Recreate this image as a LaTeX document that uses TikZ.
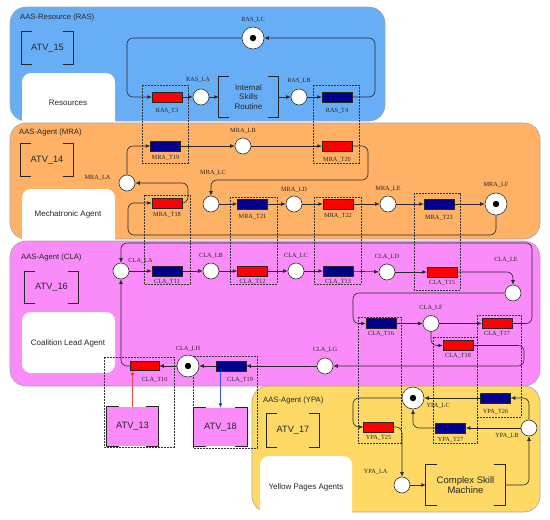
\documentclass[tikz,border=0pt]{standalone}
\usepackage{fontspec}
\setmainfont{Liberation Serif}
\setsansfont{Liberation Sans}
\usetikzlibrary{arrows.meta}
\definecolor{rasblue}{RGB}{104,174,247}
\definecolor{mraorange}{RGB}{255,178,102}
\definecolor{clapink}{RGB}{250,140,250}
\definecolor{ypayellow}{RGB}{255,217,102}
\definecolor{trnavy}{RGB}{0,0,140}
\definecolor{lineclr}{RGB}{40,40,40}
\newcommand\bracketpair[2][10]{%
  \draw[brk] ([xshift=#1pt]#2.north west) -- (#2.north west) -- (#2.south west) -- ([xshift=#1pt]#2.south west);
  \draw[brk] ([xshift=-#1pt]#2.north east) -- (#2.north east) -- (#2.south east) -- ([xshift=-#1pt]#2.south east);}
\begin{document}
\begin{tikzpicture}[x=1pt,y=-1pt,
 panel/.style={draw=black!35, line width=0.6pt, rounded corners=16pt},
 ttl/.style={font=\sffamily\fontsize{7.7}{9}\selectfont, text=black!85, anchor=west, inner sep=0pt},
 atv/.style={font=\sffamily\fontsize{9.2}{11}\selectfont, text=black!85, inner sep=0pt},
 boxtxt/.style={font=\sffamily\fontsize{8}{10}\selectfont, text=black!85, inner sep=0pt},
 brk/.style={draw=black!85, line width=1.2pt},
 place/.style={circle, draw=black!80, fill=white, minimum size=16pt, inner sep=0pt, line width=0.6pt},
 tplace/.style={place, minimum size=22pt, path picture={\fill[black] (path picture bounding box.center) circle[radius=3.2];}},
 trR/.style={rectangle, draw=black!85, fill=red, minimum width=30pt, minimum height=10pt, inner sep=0pt, line width=0.5pt},
 trB/.style={trR, fill=trnavy},
 lbl/.style={font=\fontsize{6.3}{7}\selectfont, text=black!85, inner sep=0pt},
 labA/.style={label={[lbl,label distance=4pt]above:#1}},
 labB/.style={label={[lbl,label distance=4pt]below:#1}},
 labBs/.style={label={[lbl,label distance=2.5pt]below:#1}},
 conn/.style={draw=lineclr, line width=0.6pt, -{Latex[length=4.5pt,width=3.8pt]}, rounded corners=6pt},
 dbox/.style={draw=black!80, line width=0.5pt, dash pattern=on 1.6pt off 1.4pt},
]
\useasboundingbox (0,0) rectangle (550,520);

% ---------- panels ----------
\draw[panel, fill=rasblue] (10,7) rectangle (385,121);
\fill[white, rounded corners=9pt] (22,73) rectangle (115,140);
\node[ttl] (tras) at (20,18) {AAS-Resource (RAS)};
\node[atv, minimum width=51pt, minimum height=32pt] (atv15) at (47.5,48) {ATV\_15};
\node[boxtxt] (res) at (68,103) {Resources};

\draw[panel, fill=mraorange] (10,123) rectangle (540,239);
\fill[white, rounded corners=9pt] (22,189) rectangle (115,255);
\node[ttl] (tmra) at (19,133) {AAS-Agent (MRA)};
\node[atv, minimum width=52pt, minimum height=32pt] (atv14) at (47,160) {ATV\_14};
\node[boxtxt] (mech) at (68,214) {Mechatronic Agent};

\draw[panel, fill=clapink] (10,241) rectangle (540,386);
\fill[white, rounded corners=9pt] (22,312) rectangle (115,373);
\node[ttl] (tcla) at (21,258) {AAS-Agent (CLA)};
\node[atv, minimum width=53pt, minimum height=31pt] (atv16) at (51.5,287.5) {ATV\_16};
\node[boxtxt] (coal) at (68,343) {Coalition Lead Agent};

\draw[panel, fill=ypayellow] (252,386) rectangle (540,512);
\fill[white, rounded corners=9pt] (260,456) rectangle (352,530);
\node[ttl] (typa) at (263,401) {AAS-Agent (YPA)};
\node[atv, minimum width=52pt, minimum height=33pt] (atv17) at (293,430.5) {ATV\_17};
\node[boxtxt] (ypag) at (306,487) {Yellow Pages Agents};

\node[atv, fill=clapink, minimum width=51pt, minimum height=39pt] (atv13) at (132.5,426.5) {ATV\_13};
\node[atv, fill=clapink, minimum width=53pt, minimum height=38pt] (atv18) at (220.5,427) {ATV\_18};

% ---------- dashed groups ----------
\draw[dbox] (142,85) rectangle (188,163);
\draw[dbox] (313,85) rectangle (359,163);
\draw[dbox] (144,195) rectangle (190,284);
\draw[dbox] (230,197) rectangle (277,284);
\draw[dbox] (314,197) rectangle (361,284);
\draw[dbox] (414,193) rectangle (460,290);
\draw[dbox] (358,317) rectangle (401,443);
\draw[dbox] (433,337) rectangle (477,443);
\draw[dbox] (477,315) rectangle (521,417);
\draw[dbox] (104,357) rectangle (174,447);
\draw[dbox] (193,356) rectangle (257,448);

% ---------- RAS net ----------
\node[tplace, label={[lbl,label distance=4.5pt]above:RAS\_LC}] (RLC) at (253,38) {};
\node[trR, label={[lbl,label distance=5.5pt]below:RAS\_T3}] (RT3) at (167,97) {};
\node[place, label={[lbl,label distance=6pt,xshift=-3pt]above:RAS\_LA}] (RLA) at (201,97) {};
\node[boxtxt, align=center, font=\sffamily\fontsize{8}{9.7}\selectfont, minimum width=59pt, minimum height=40pt] (isr) at (248.5,97) {Internal\\Skills\\Routine};
\node[place, label={[lbl,label distance=5.5pt]above:RAS\_LB}] (RLB) at (299,97) {};
\node[trB, label={[lbl,label distance=6pt]below:RAS\_T4}] (RT4) at (337,97) {};
\coordinate (rc1) at (375,38);
\coordinate (rc2) at (127,97);

% ---------- MRA net ----------
\node[trB, labB=MRA\_T19] (MT19) at (165.5,146) {};
\node[place, labA=MRA\_LB] (MLB) at (243,146) {};
\node[trR, label={[lbl,label distance=5.5pt]below:MRA\_T20}] (MT20) at (337,146) {};
\node[place, label={[lbl,label distance=8pt,yshift=5pt]left:MRA\_LA}] (MLA) at (127,183) {};
\node[trR, labB=MRA\_T18] (MT18) at (167,203) {};
\node[place, label={[lbl,label distance=20pt,xshift=2pt]above:MRA\_LC}] (MLC) at (211,204) {};
\node[trB, label={[lbl,label distance=5pt]below:MRA\_T21}] (MT21) at (252.5,204) {};
\node[place, label={[lbl,label distance=3pt]above:MRA\_LD}] (MLD) at (294,204) {};
\node[trR, labB=MRA\_T22] (MT22) at (338,204) {};
\node[place, labA=MRA\_LE] (MLE) at (388,204) {};
\node[trB, label={[lbl,label distance=6pt]below:MRA\_T23}] (MT23) at (439,204) {};
\node[tplace, label={[lbl,label distance=5pt]above:MRA\_LF}] (MLF) at (496,204) {};
\coordinate (mc1) at (368,180);
\coordinate (mc2) at (128,235);
\coordinate (mc3) at (188,183);

% ---------- CLA net ----------
\node[place, label={[lbl,label distance=2pt]above right:CLA\_LA}] (CLA) at (121,271) {};
\node[trB, labBs=CLA\_T11] (CT11) at (167,271) {};
\node[place, labA=CLA\_LB] (CLB) at (211,271) {};
\node[trR, labBs=CLA\_T12] (CT12) at (252.5,271) {};
\node[place, labA=CLA\_LC] (CLC) at (296,271) {};
\node[trB, labBs=CLA\_T13] (CT13) at (338,271) {};
\node[place, labA=CLA\_LD] (CLD) at (387,272) {};
\node[trR, labBs=CLA\_T15] (CT15) at (442,272) {};
\node[place, label={[lbl,label distance=22pt,xshift=-7pt]above:CLA\_LE}] (CLE) at (513,293) {};
\node[trB, labBs=CLA\_T16] (CT16) at (381,323.5) {};
\node[place, label={[lbl,label distance=5pt]above:CLA\_LF}] (CLF) at (431,323.5) {};
\node[trR, labBs=CLA\_T17] (CT17) at (497,323.5) {};
\node[trR, labBs=CLA\_T18] (CT18) at (458,345.5) {};
\node[place, label={[lbl,label distance=5pt]above:CLA\_LG}] (CLG) at (325,366) {};
\node[trB, label={[lbl,label distance=5.5pt,xshift=9pt]below:CLA\_T19}] (CT19) at (231,366) {};
\node[tplace, label={[lbl,label distance=3.5pt]above:CLA\_LH}] (CLH) at (188,366) {};
\node[trR, minimum width=29pt, minimum height=9pt, label={[lbl,label distance=6pt,xshift=10pt]below:CLA\_T10}] (CT10) at (144.5,366) {};
\coordinate (cc1) at (353,293);
\coordinate (cc2) at (532,243);
\coordinate (cc3) at (524,366);

% ---------- YPA net ----------
\node[tplace, label={[lbl,label distance=2pt,yshift=-8pt]right:YPA\_LC}] (YLC) at (413,398) {};
\node[trB, label={[lbl,label distance=5.5pt]below:YPA\_T26}] (YT26) at (495.5,398) {};
\node[place, label={[lbl,label distance=2pt,yshift=-8pt]left:YPA\_LB}] (YLB) at (529,428) {};
\node[trB, labB=YPA\_T27] (YT27) at (450.5,428) {};
\node[trR, labBs=YPA\_T25] (YT25) at (378.5,427) {};
\node[place, label={[lbl,label distance=6pt,yshift=13pt]left:YPA\_LA}] (YLA) at (402,485) {};
\node[boxtxt, align=center, font=\sffamily\fontsize{9.5}{10.7}\selectfont, minimum width=79pt, minimum height=40pt] (csm) at (465.5,485) {Complex Skill\\Machine};
\coordinate (yc1) at (353,398);

% ---------- brackets ----------
\bracketpair{atv15}
\bracketpair{atv14}
\bracketpair{atv16}
\bracketpair{atv17}
\bracketpair[12]{atv13}
\bracketpair[12]{atv18}
\bracketpair{isr}
\bracketpair[11]{csm}

% ---------- connectors ----------
\draw[conn] (RT3) -- (RLA);
\draw[conn] (RLA) -- (isr);
\draw[conn] (isr) -- (RLB);
\draw[conn] (RLB) -- (RT4);
\draw[conn] (RT4.east) -| (rc1) -- (RLC.east);
\draw[conn] (RLC.west) -| (rc2) -- (RT3.west);

\draw[conn] (MLA.north) |- (MT19.west);
\draw[conn] (MT19) -- (MLB);
\draw[conn] (MLB) -- (MT20);
\draw[conn] (MT20.east) -| (mc1) -| (MLC.north);
\draw[conn] (MLC) -- (MT21);
\draw[conn] (MT21) -- (MLD);
\draw[conn] (MLD) -- (MT22);
\draw[conn] (MT22) -- (MLE);
\draw[conn] (MLE) -- (MT23);
\draw[conn] (MT23) -- (MLF);
\draw[conn] (MLF.south) |- (mc2) |- (MT18.west);
\draw[conn] (MT18.east) -| (mc3) -- (MLA.east);

\draw[conn] (CLA) -- (CT11);
\draw[conn] (CT11) -- (CLB);
\draw[conn] (CLB) -- (CT12);
\draw[conn] (CT12) -- (CLC);
\draw[conn] (CLC) -- (CT13);
\draw[conn] (CT13) -- (CLD);
\draw[conn] (CLD) -- (CT15);
\draw[conn] (CT15.east) -| (CLE.north);
\draw[conn] (CLE.west) -- (cc1) |- (CT16.west);
\draw[conn] (CT16) -- (CLF);
\draw[conn] (CLF) -- (CT17);
\draw[conn] (CLF.south) |- (CT18.west);
\draw[conn] (CT17.east) -| (cc2) -| (CLA.north);
\draw[conn] (CT18.east) -| (cc3) -- (CLG.east);
\draw[conn] (CLG) -- (CT19);
\draw[conn] (CT19) -- (CLH);
\draw[conn] (CLH) -- (CT10);
\draw[conn] (CT10.west) -| (CLA.south);
\draw[conn, draw={rgb,255:red,255;green,70;blue,70}, -{Latex[length=4.5pt,width=3.8pt,fill=red]}] (atv13.north) -- (atv13.north |- CT10.south);
\draw[conn, draw={rgb,255:red,60;green,80;blue,230}, -{Latex[length=4.5pt,width=3.8pt,fill=blue]}] (atv18.north |- CT19.south) -- (atv18.north);

\draw[conn] (YLB.north) |- (YT26.east);
\draw[conn] (YT26) -- (YLC);
\draw[conn] (YLB) -- (YT27);
\draw[conn] (YT27.west) -| (YLC.south);
\draw[conn] (YLC.west) -- (yc1) |- (YT25.west);
\draw[conn] (YT25.east) -| (YLA.north);
\draw[conn] (YLA) -- (csm);
\draw[conn] (csm.east) -| (YLB.south);
\end{tikzpicture}
\end{document}
